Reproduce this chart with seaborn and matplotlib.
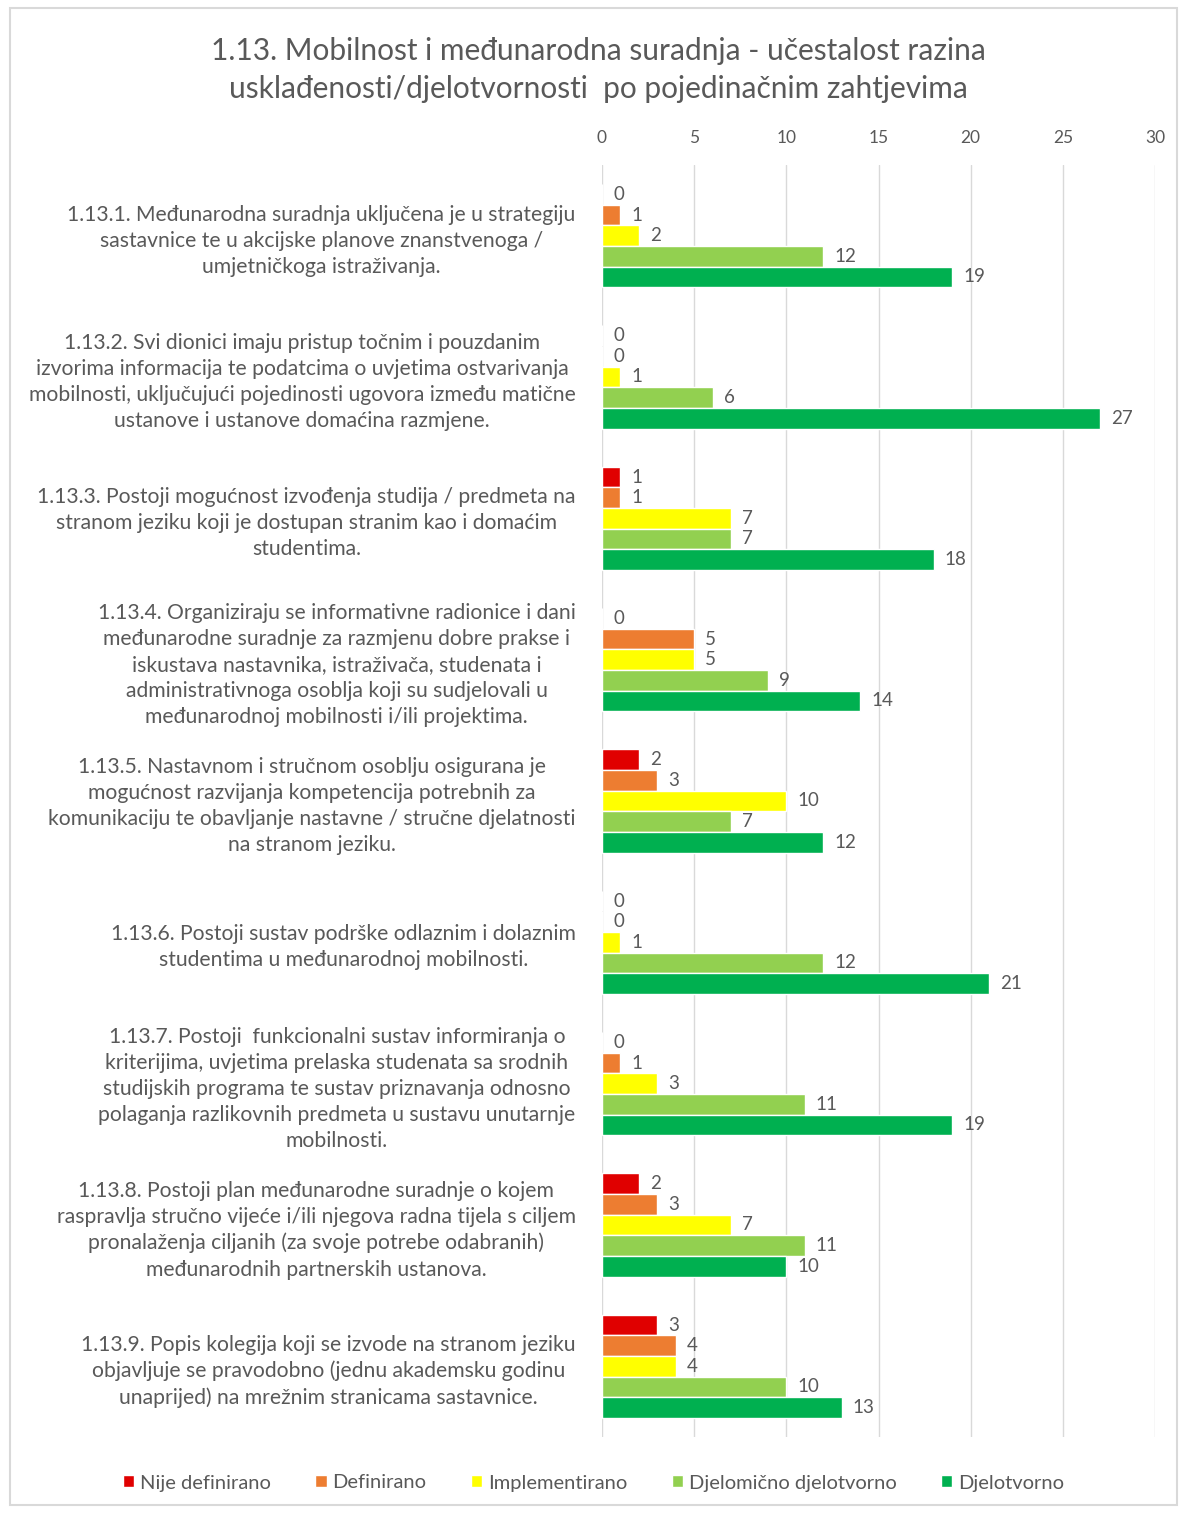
import matplotlib
matplotlib.use("Agg")
import matplotlib.pyplot as plt
import seaborn as sns
import pandas as pd
from matplotlib.patches import Rectangle

categories = [
    "1.13.1. Međunarodna suradnja uključena je u strategiju\nsastavnice te u akcijske planove znanstvenoga /\numjetničkoga istraživanja.",
    "1.13.2. Svi dionici imaju pristup točnim i pouzdanim\nizvorima informacija te podatcima o uvjetima ostvarivanja\nmobilnosti, uključujući pojedinosti ugovora između matične\nustanove i ustanove domaćina razmjene.",
    "1.13.3. Postoji mogućnost izvođenja studija / predmeta na\nstranom jeziku koji je dostupan stranim kao i domaćim\nstudentima.",
    "1.13.4. Organiziraju se informativne radionice i dani\nmeđunarodne suradnje za razmjenu dobre prakse i\niskustava nastavnika, istraživača, studenata i\nadministrativnoga osoblja koji su sudjelovali u\nmeđunarodnoj mobilnosti i/ili projektima.",
    "1.13.5. Nastavnom i stručnom osoblju osigurana je\nmogućnost razvijanja kompetencija potrebnih za\nkomunikaciju te obavljanje nastavne / stručne djelatnosti\nna stranom jeziku.",
    "1.13.6. Postoji sustav podrške odlaznim i dolaznim\nstudentima u međunarodnoj mobilnosti.",
    "1.13.7. Postoji  funkcionalni sustav informiranja o\nkriterijima, uvjetima prelaska studenata sa srodnih\nstudijskih programa te sustav priznavanja odnosno\npolaganja razlikovnih predmeta u sustavu unutarnje\nmobilnosti.",
    "1.13.8. Postoji plan međunarodne suradnje o kojem\nraspravlja stručno vijeće i/ili njegova radna tijela s ciljem\npronalaženja ciljanih (za svoje potrebe odabranih)\nmeđunarodnih partnerskih ustanova.",
    "1.13.9. Popis kolegija koji se izvode na stranom jeziku\nobjavljuje se pravodobno (jednu akademsku godinu\nunaprijed) na mrežnim stranicama sastavnice.",
]

series_names = ["Nije definirano", "Definirano", "Implementirano",
                "Djelomično djelotvorno", "Djelotvorno"]
nije_definirano = [0, 0, 1, 0, 2, 0, 0, 2, 3]
definirano = [1, 0, 1, 5, 3, 0, 1, 3, 4]
implementirano = [2, 1, 7, 5, 10, 1, 3, 7, 4]
djelomicno = [12, 6, 7, 9, 7, 12, 11, 11, 10]
djelotvorno = [19, 27, 18, 14, 12, 21, 19, 10, 13]
colors = ["#E00000", "#ED7D31", "#FFFF00", "#92D050", "#00B050"]
x_ticks = [0, 5, 10, 15, 20, 25, 30]

rows = []
for name, vals in zip(series_names, [nije_definirano, definirano, implementirano,
                                       djelomicno, djelotvorno]):
    for c, v in zip(categories, vals):
        rows.append({"cat": c, "series": name, "value": v})
df = pd.DataFrame(rows)

sns.set_theme(style="white")
plt.rcParams["font.family"] = ["Lato", "DejaVu Sans"]
txt = "#595959"

fig = plt.figure(figsize=(11.87, 15.13), dpi=100)
ax = fig.add_axes([602 / 1187, 1 - 1437 / 1513, (1155 - 602) / 1187, (1437 - 165) / 1513])

sns.barplot(data=df, y="cat", x="value", hue="series", hue_order=series_names,
            order=categories, palette=colors, orient="h", width=0.73,
            saturation=1, ax=ax, legend=True)

for cont in ax.containers:
    ax.bar_label(cont, padding=8, fontsize=13.5, color=txt)

ax.set_xlim(0, 30)
ax.set_xticks(x_ticks)
ax.xaxis.tick_top()
ax.tick_params(axis="x", length=0, labelsize=12.5, labelcolor=txt, pad=14)
ax.tick_params(axis="y", length=0, labelsize=15.2, labelcolor=txt, pad=19)
for lab in ax.get_yticklabels():
    lab.set_multialignment("center")
    lab.set_linespacing(1.38)
ax.set_xlabel("")
ax.set_ylabel("")
ax.grid(axis="x", color="#D9D9D9", linewidth=1)
ax.set_axisbelow(True)
for s in ax.spines.values():
    s.set_visible(False)

handles, labels = ax.get_legend_handles_labels()
ax.get_legend().remove()
fig.legend(handles, labels, loc="center", bbox_to_anchor=(0.5, 1 - 1483 / 1513),
           ncol=5, frameon=False, fontsize=14.5, labelcolor=txt,
           handlelength=0.55, handleheight=0.55, handletextpad=0.3, columnspacing=2.2)

fig.text(598 / 1187, 1 - 70 / 1513,
         "1.13. Mobilnost i međunarodna suradnja - učestalost razina\nusklađenosti/djelotvornosti  po pojedinačnim zahtjevima",
         ha="center", va="center", fontsize=21.5, color=txt, linespacing=1.45)

fig.patches.append(Rectangle((10 / 1187, 8 / 1513), 1167 / 1187, 1497 / 1513,
                             transform=fig.transFigure, fill=False,
                             edgecolor="#D9D9D9", linewidth=1.5))

fig.savefig("out.png", dpi=100, facecolor="white")
